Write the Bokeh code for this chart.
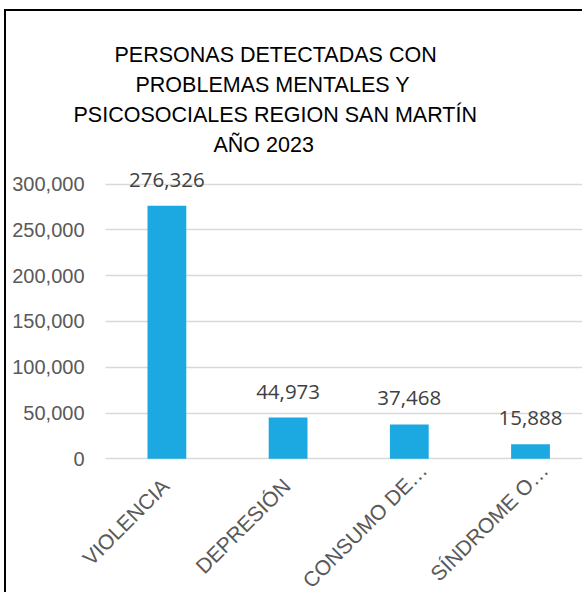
import math
from bokeh.plotting import figure
from bokeh.models import Title, FixedTicker, Range1d, NumeralTickFormatter, BoxAnnotation
from bokeh.core.properties import value
from bokeh.embed import file_html
from bokeh.resources import INLINE

# ---- data ----
categories = ["VIOLENCIA", "DEPRESIÓN", "CONSUMO DE…", "SÍNDROME O…"]
counts = [276326, 44973, 37468, 15888]
y_ticks = [0, 50000, 100000, 150000, 200000, 250000, 300000]
title_lines = ["PERSONAS DETECTADAS CON", "PROBLEMAS MENTALES Y",
               "PSICOSOCIALES  REGION SAN MARTÍN", "AÑO 2023"]

# ---- layout constants (canvas px; canvas sits at page 0,0) ----
W, H = 582, 592
FRAME_L, FRAME_T = 76, 158
PLOT_L = 105              # where gridlines start
LABEL_RIGHT = 84          # right edge of y tick labels
ZERO_Y = 458.3            # screen y of value 0
PX_PER_CAT = 121.2
FIRST_CENTER_X = 166.4
PX_PER_UNIT = 45.8 / 50000

frame_w = W - FRAME_L
x_start = -(FIRST_CENTER_X - FRAME_L) / PX_PER_CAT
x_end = x_start + frame_w / PX_PER_CAT
y_start = -(H - ZERO_Y) / PX_PER_UNIT
y_end = (ZERO_Y - FRAME_T) / PX_PER_UNIT

p = figure(width=W, height=H, output_backend="svg", toolbar_location=None,
           x_range=Range1d(x_start, x_end), y_range=Range1d(y_start, y_end),
           x_axis_location=None,
           min_border_left=FRAME_L, min_border_right=0,
           min_border_top=FRAME_T, min_border_bottom=0)
p.border_fill_color = None
p.background_fill_color = "white"
p.outline_line_color = None
p.styles = {"box-shadow": "inset 4px 0 0 0 white, inset 0 9px 0 0 white, "
                          "inset 6px 0 0 0 black, inset 0 11px 0 0 black"}

# gridlines
p.xgrid.grid_line_color = None
p.ygrid.ticker = FixedTicker(ticks=y_ticks)
p.ygrid.grid_line_color = "#D9D9D9"
p.ygrid.grid_line_width = 1.5
# keep the gridlines out of the tick-label strip
p.add_layout(BoxAnnotation(left=x_start, right=x_start + (PLOT_L - FRAME_L) / PX_PER_CAT,
                           fill_color="white", fill_alpha=1.0, line_color=None,
                           level="underlay"))

xs = list(range(len(categories)))
p.vbar(x=xs, top=counts, width=0.32, fill_color="#1CA9E1", line_color=None)

# value labels
p.text(x=xs, y=counts, text=[f"{v:,}" for v in counts],
       text_align="center", text_baseline="alphabetic", y_offset=-26,
       text_font=value("Open Sans"), text_font_size="20.5px",
       text_color="#404040")

# category labels (rotated, drawn under the zero line)
diag = 15.6
xoff = [-1.5 + (diag if c.endswith("…") else 0) for c in categories]
yoff = [23.5 - (diag if c.endswith("…") else 0) for c in categories]
p.text(x=xs, y=[0] * len(xs), text=categories, angle=math.pi / 4,
       x_offset=xoff, y_offset=yoff,
       text_align="right", text_baseline="alphabetic",
       text_font=value("Liberation Sans"), text_font_size="21px",
       text_color="#595959")

# y axis
p.yaxis.ticker = FixedTicker(ticks=y_ticks)
p.yaxis.formatter = NumeralTickFormatter(format="0,0")
p.yaxis.axis_line_color = None
p.yaxis.major_tick_line_color = None
p.yaxis.major_tick_out = 0
p.yaxis.major_tick_in = 0
p.yaxis.minor_tick_line_color = None
p.yaxis.major_label_text_font = "Liberation Sans"
p.yaxis.major_label_text_font_size = "20px"
p.yaxis.major_label_text_color = "#595959"
p.yaxis.major_label_standoff = FRAME_L - LABEL_RIGHT

# title lines (stacked above the frame, nearest line first)
lefts = [114, 135, 73, 213]
for t, lx in reversed(list(zip(title_lines, lefts))):
    p.add_layout(Title(text=t, align="left", offset=lx - FRAME_L,
                       text_font="Liberation Sans", text_font_size="21.5px",
                       text_font_style="normal", text_color="black",
                       standoff=3.5), "above")

open("out.html", "w").write(file_html(p, INLINE))
